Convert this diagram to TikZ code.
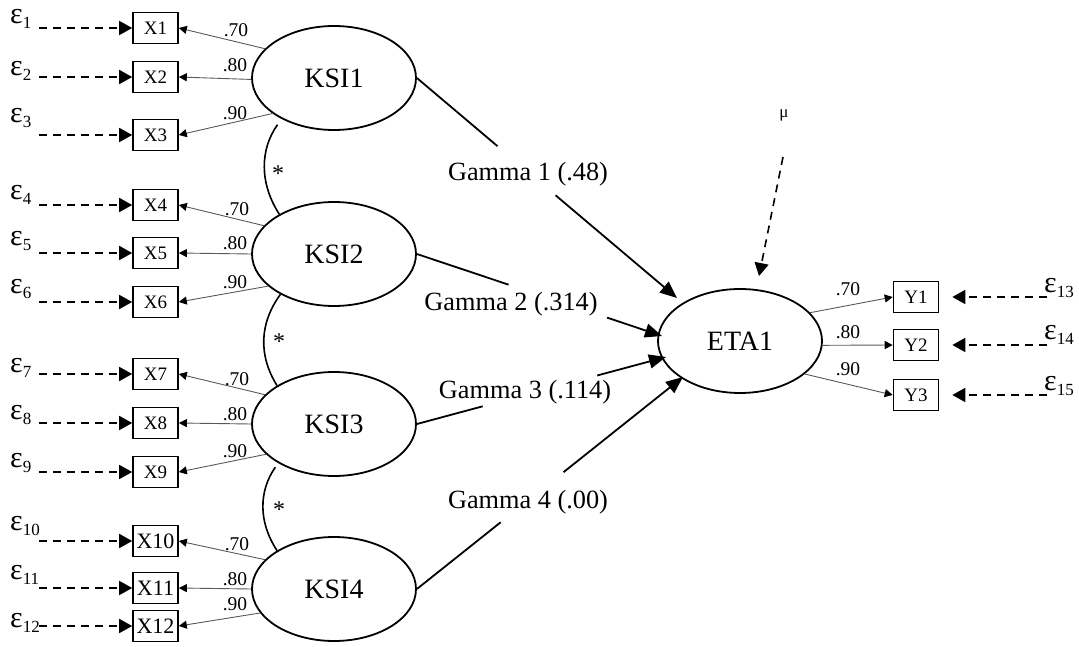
\documentclass[tikz,border=0pt]{standalone}
\usepackage{fontspec}
\setmainfont{Liberation Serif}
\usetikzlibrary{arrows.meta,calc,shapes.geometric}
\newcommand{\epslab}[1]{{\fontsize{30}{30}\selectfont ε}\raisebox{-5pt}{\fontsize{17}{17}\selectfont #1}}
\begin{document}
\begin{tikzpicture}[x=1pt,y=-1pt,
  lat/.style={draw,ellipse,line width=1.8pt,minimum width=164pt,minimum height=104pt,inner sep=0pt,font=\fontsize{28}{28}\selectfont},
  obs/.style={draw,rectangle,line width=1.6pt,minimum width=45pt,minimum height=31pt,inner sep=0pt,font=\fontsize{19}{19}\selectfont},
  obsb/.style={obs,font=\fontsize{22}{22}\selectfont},
  err/.style={line width=1.6pt,dash pattern=on 8pt off 6pt,-{Triangle[length=13pt,width=14pt]}},
  load/.style={line width=0.9pt,draw=black!65,-{Triangle[length=8pt,width=8pt,color=black]}},
  gam/.style={line width=1.8pt},
  gamarr/.style={line width=1.8pt,-{Triangle[length=17pt,width=14pt]}},
  cov/.style={line width=1.6pt},
  glab/.style={anchor=base,inner sep=0pt,font=\fontsize{26.3}{26.3}\selectfont},
  llab/.style={anchor=base,inner sep=0pt,font=\fontsize{19.5}{19.5}\selectfont},
  eps/.style={anchor=base west,inner sep=0pt},
  star/.style={inner sep=0pt,font=\fontsize{24}{24}\selectfont}
]
\useasboundingbox (0,0) rectangle (1079,647);

% latent variables
\node[lat] (ksi1) at (334,78) {KSI1};
\node[lat] (ksi2) at (334,254) {KSI2};
\node[lat] (ksi3) at (334,424) {KSI3};
\node[lat] (ksi4) at (334,589) {KSI4};
\node[lat] (eta) at (740,341) {ETA1};

% observed X
\foreach \i/\y in {1/28,2/77,3/135,4/205,5/253,6/302,7/374,8/423,9/472}{
  \node[obs] (x\i) at (155.5,\y) {X\i};
  \coordinate (s\i) at (39,\y);
  \draw[err] (s\i) -- (x\i.west);
}
\foreach \i/\y in {10/541,11/588,12/626}{
  \node[obsb] (x\i) at (155.5,\y) {X\i};
  \coordinate (s\i) at (39,\y);
  \draw[err] (s\i) -- (x\i.west);
}
% epsilon labels
\foreach \i/\b in {1/24,2/76,3/123,4/200,5/246,6/293,7/372,8/419,9/467,10/530,11/579,12/627}{
  \node[eps] (e\i) at (10,\b) {\epslab{\i}};
}

% observed Y
\node[obs] (y1) at (916,297) {Y1};
\node[obs] (y2) at (916,345) {Y2};
\node[obs] (y3) at (916,395) {Y3};
\coordinate (r13) at (1047,297);
\coordinate (r14) at (1047,345);
\coordinate (r15) at (1047,395);
\draw[err,shorten >=13pt] (r13) -- (y1.east);
\draw[err,shorten >=13pt] (r14) -- (y2.east);
\draw[err,shorten >=13pt] (r15) -- (y3.east);
\node[eps] (e13) at (1044,292) {\epslab{13}};
\node[eps] (e14) at (1044,339) {\epslab{14}};
\node[eps] (e15) at (1044,390) {\epslab{15}};

% loadings X
\draw[load] (ksi1.157) -- (x1.east);
\draw[load] (ksi1.181) -- (x2.east);
\draw[load] (ksi1.210) -- (x3.east);
\draw[load] (ksi2.158) -- (x4.east);
\draw[load] (ksi2.180) -- (x5.east);
\draw[load] (ksi2.206) -- (x6.east);
\draw[load] (ksi3.157) -- (x7.east);
\draw[load] (ksi3.180) -- (x8.east);
\draw[load] (ksi3.204) -- (x9.east);
\draw[load] (ksi4.157) -- (x10.east);
\draw[load] (ksi4.180) -- (x11.east);
\draw[load] (ksi4.198) -- (x12.east);

\node[llab] (l1) at (236,37) {.70};
\node[llab] (l2) at (235,72) {.80};
\node[llab] (l3) at (235,120) {.90};
\node[llab] (l4) at (237,215) {.70};
\node[llab] (l5) at (235,250) {.80};
\node[llab] (l6) at (235,288) {.90};
\node[llab] (l7) at (237,385) {.70};
\node[llab] (l8) at (235,420) {.80};
\node[llab] (l9) at (235,457) {.90};
\node[llab] (l10) at (237,550) {.70};
\node[llab] (l11) at (235,585) {.80};
\node[llab] (l12) at (235,610) {.90};

% loadings Y
\draw[load] (eta.22.5) -- (y1.west);
\draw[load] (eta.-3) -- (y2.west);
\draw[load] (eta.-27) -- (y3.west);
\node[llab] (l13) at (848,295) {.70};
\node[llab] (l14) at (848,338) {.80};
\node[llab] (l15) at (848,375) {.90};

% covariances
\draw[cov,shorten <=7pt] (ksi1.218) to[bend right=34] (ksi2.144);
\draw[cov] (ksi2.217) to[bend right=34] (ksi3.146);
\draw[cov,shorten <=5pt] (ksi3.215) to[bend right=34] (ksi4.146);
\node[star] (st1) at (278,174) {*};
\node[star] (st2) at (279,342) {*};
\node[star] (st3) at (279,510) {*};

% structural paths
\coordinate (t1) at (677,298);
\coordinate (t2) at (662,336);
\coordinate (t3) at (666,357);
\coordinate (t4) at (683,377);
\draw[gam] (ksi1.east) -- ($(ksi1.east)!0.310!(t1)$);
\draw[gamarr] ($(ksi1.east)!0.533!(t1)$) -- (t1);
\draw[gam] (ksi2.east) -- ($(ksi2.east)!0.374!(t2)$);
\draw[gamarr] ($(ksi2.east)!0.776!(t2)$) -- (t2);
\draw[gam] (ksi3.east) -- ($(ksi3.east)!0.264!(t3)$);
\draw[gamarr] ($(ksi3.east)!0.724!(t3)$) -- (t3);
\draw[gam] (ksi4.east) -- ($(ksi4.east)!0.315!(t4)$);
\draw[gamarr] ($(ksi4.east)!0.551!(t4)$) -- (t4);
\node[glab] (g1) at (528,181) {Gamma 1 (.48)};
\node[glab] (g2) at (511,310) {Gamma 2 (.314)};
\node[glab] (g3) at (525,398) {Gamma 3 (.114)};
\node[glab] (g4) at (528,508) {Gamma 4 (.00)};

% disturbance
\node[anchor=base,inner sep=0pt,font=\fontsize{17}{17}\selectfont] (mu) at (784,118) {μ};
\coordinate (m1) at (783,157);
\coordinate (m2) at (759,276);
\draw[err] (m1) -- (m2);
\end{tikzpicture}
\end{document}
